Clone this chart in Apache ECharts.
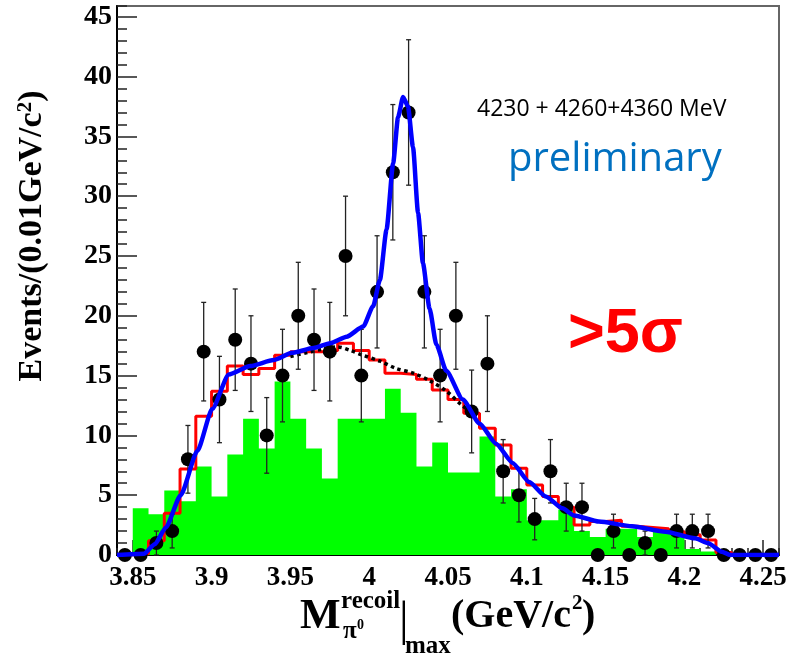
<!DOCTYPE html>
<html><head><meta charset="utf-8">
<script src="https://cdn.jsdelivr.net/npm/echarts@6/dist/echarts.min.js"></script>
<style>html,body{margin:0;padding:0;background:#fff}#c{width:794px;height:659px}</style>
</head><body><div id="c"></div>
<script>
// ---- data ----
const binEdges = [3.84,3.85,3.86,3.87,3.88,3.89,3.90,3.91,3.92,3.93,3.94,3.95,3.96,3.97,3.98,3.99,4.00,4.01,4.02,4.03,4.04,4.05,4.06,4.07,4.08,4.09,4.10,4.11,4.12,4.13,4.14,4.15,4.16,4.17,4.18,4.19,4.20,4.21,4.22,4.23,4.24,4.25,4.26];
const binCenters = [3.845,3.855,3.865,3.875,3.885,3.895,3.905,3.915,3.925,3.935,3.945,3.955,3.965,3.975,3.985,3.995,4.005,4.015,4.025,4.035,4.045,4.055,4.065,4.075,4.085,4.095,4.105,4.115,4.125,4.135,4.145,4.155,4.165,4.175,4.185,4.195,4.205,4.215,4.225,4.235,4.245,4.255];
const dataCounts = [0,0,1,2,8,17,13,18,16,10,15,20,18,17,25,15,22,32,37,22,15,20,12,16,7,5,3,7,4,4,0,2,0,1,0,2,2,2,0,0,0,0];
const dataErrors = [0,0,1,1.41,2.83,4.12,3.61,4.24,4,3.16,3.87,4.47,4.24,4.12,5,3.87,4.69,5.66,6.08,4.69,3.87,4.47,3.46,4,2.65,2.24,1.73,2.65,2,2,0,1.41,0,1,0,1.41,1.41,1.41,0,0,0,0];
const greenHist = [0,3.9,3.4,5.4,4.5,7.4,4.9,8.4,11.4,8.9,14.5,11.4,8.9,6.4,11.4,11.4,11.4,13.9,11.9,7.4,9.4,6.9,6.9,9.9,4.9,5.5,2.9,2.9,3.8,2.0,1.5,2.2,2.2,1.5,2.0,2.0,0.5,0.3,0,0,0,0];
const redHist = [0,0.1,1.2,3.5,7.2,11.6,13.7,15.8,15.1,15.6,16.7,17.0,17.0,17.1,17.7,17.1,16.3,15.2,15.1,14.7,13.8,13.0,11.85,10.6,9.2,7.25,5.85,4.9,4.0,2.5,2.8,2.9,2.4,2.3,2.2,1.95,1.7,1.25,0.2,0,0,0];
const fitX = [3.84,3.857,3.864,3.871,3.8804,3.891,3.9004,3.9109,3.9246,3.9394,3.951,3.9646,3.9752,3.9857,3.9962,4.0025,4.0068,4.011,4.0152,4.0183,4.0215,4.0246,4.0278,4.031,4.0341,4.0383,4.0426,4.0489,4.0594,4.07,4.0805,4.091,4.1015,4.112,4.1226,4.13,4.1457,4.1668,4.1879,4.2068,4.2152,4.2236,4.2289,4.26];
const fitY = [0,0.1,0.9,2.3,5.0,8.7,12.2,15.1,15.8,16.3,16.9,17.3,17.7,18.25,19.1,20.8,23.0,27.2,32.75,36.6,38.3,37.5,34.1,28.6,24.4,20.6,17.6,15.4,13.0,11.0,9.3,7.7,6.1,4.9,3.9,3.3,2.8,2.4,1.95,1.4,0.98,0.28,0,0];
const bkgX = [3.95,3.96,3.97,3.98,3.988,3.996,4.007,4.017,4.028,4.038,4.049,4.059,4.066];
const bkgY = [16.6,16.9,17.2,17.4,17.1,16.7,16.2,15.6,15.2,14.6,13.7,12.5,11.9];
const xTickLabels = [3.85,3.90,3.95,4.00,4.05,4.10,4.15,4.20,4.25];
const yTickLabels = [0,5,10,15,20,25,30,35,40,45];

// ---- build series data ----
function stepData(vals){
  const d = vals.map((v,i)=>[binEdges[i], v]);
  d.push([binEdges[binEdges.length-1], vals[vals.length-1]]);
  return d;
}
const pts = binCenters.map((x,i)=>[x, dataCounts[i], dataErrors[i]]);
const fitData = fitX.map((x,i)=>[x, fitY[i]]);
const bkgData = bkgX.map((x,i)=>[x, bkgY[i]]);

const SERIF = 'Liberation Serif';
const chart = echarts.init(document.getElementById('c'), null, {renderer:'canvas'});
const fmt = v => String(+(+v).toFixed(2));

chart.setOption({
  animation:false,
  backgroundColor:'#fff',
  grid:{left:117, right:15, top:6, bottom:104, show:true, borderColor:'#666', borderWidth:2, backgroundColor:'transparent'},
  xAxis:[{
    type:'value', min:3.84, max:4.26, position:'bottom',
    axisLine:{show:true, onZero:false, lineStyle:{color:'#000', width:2}},
    axisTick:{show:true, inside:true, length:15, customValues:xTickLabels, lineStyle:{color:'#222', width:1.5}},
    axisLabel:{show:true, customValues:xTickLabels, formatter:fmt, fontFamily:SERIF, fontWeight:'bold', fontSize:27, color:'#000', margin:10},
    splitLine:{show:false}
  },{
    type:'value', min:3.84, max:4.26, interval:0.01, position:'bottom',
    axisLine:{show:false}, axisLabel:{show:false}, splitLine:{show:false},
    axisTick:{show:true, inside:true, length:7, lineStyle:{color:'#222', width:1.5}}
  }],
  yAxis:[{
    type:'value', min:0, max:45.9, position:'left',
    axisLine:{show:true, onZero:false, lineStyle:{color:'#000', width:2}},
    axisTick:{show:true, inside:true, length:20, customValues:yTickLabels, lineStyle:{color:'#222', width:1.5}},
    axisLabel:{show:true, customValues:yTickLabels, formatter:fmt, fontFamily:SERIF, fontWeight:'bold', fontSize:28, color:'#000', margin:5},
    splitLine:{show:false}
  },{
    type:'value', min:0, max:45.9, interval:1, position:'left', offset:0,
    axisLine:{show:false}, axisLabel:{show:false}, splitLine:{show:false},
    axisTick:{show:true, inside:true, length:10, lineStyle:{color:'#222', width:1.5}}
  }],
  series:[
    {type:'line', name:'bkgMC', data:stepData(greenHist), step:'end', symbol:'none', lineStyle:{width:0}, areaStyle:{color:'#00ff00', opacity:1}, z:1},
    {type:'line', name:'sum', data:stepData(redHist), step:'end', symbol:'none', lineStyle:{color:'#ff0000', width:3}, z:2},
    {type:'line', name:'bkg', data:bkgData, smooth:0.3, symbol:'none', lineStyle:{color:'#000', width:3.5, type:[3.5,3.5]}, z:3},
    {type:'custom', name:'err', data:pts, encode:{x:0, y:1}, z:4, clip:false,
      renderItem:(params, api)=>{
        const x = api.value(0), y = api.value(1), e = api.value(2);
        if (!e) return null;
        const t = api.coord([x, y+e]), b = api.coord([x, y-e]);
        const c = 2.5, st = {stroke:'#222', lineWidth:1.3};
        return {type:'group', children:[
          {type:'line', shape:{x1:t[0], y1:t[1], x2:b[0], y2:b[1]}, style:st},
          {type:'line', shape:{x1:t[0]-c, y1:t[1], x2:t[0]+c, y2:t[1]}, style:st},
          {type:'line', shape:{x1:b[0]-c, y1:b[1], x2:b[0]+c, y2:b[1]}, style:st}
        ]};
      }},
    {type:'scatter', name:'data', data:pts.map(p=>[p[0],p[1]]), symbol:'circle', symbolSize:14, itemStyle:{color:'#000', opacity:1}, clip:false, z:5},
    {type:'line', name:'fit', data:fitData, smooth:0.2, smoothMonotone:'x', symbol:'none', lineStyle:{color:'#0000ff', width:4.5}, z:6}
  ],
  graphic:[
    {type:'text', x:32, y:236, rotation:Math.PI/2, z:10, style:{text:'Events/(0.01GeV/c{s|2})', fill:'#000', fontFamily:SERIF, fontWeight:'bold', fontSize:34, align:'center', verticalAlign:'middle',
      rich:{s:{fontFamily:SERIF, fontWeight:'bold', fontSize:21, verticalAlign:'top', fill:'#000'}}}},
    {type:'text', x:300, y:617, z:10, style:{text:'M', fill:'#000', fontFamily:SERIF, fontWeight:'bold', fontSize:43, align:'left', verticalAlign:'middle'}},
    {type:'text', x:341, y:602, z:10, style:{text:'recoil', fill:'#000', fontFamily:SERIF, fontWeight:'bold', fontSize:25, align:'left', verticalAlign:'middle'}},
    {type:'text', x:343, y:632, z:10, style:{text:'\u03c0', fill:'#000', fontFamily:SERIF, fontWeight:'bold', fontSize:25, align:'left', verticalAlign:'middle'}},
    {type:'text', x:357, y:625, z:10, style:{text:'0', fill:'#000', fontFamily:SERIF, fontWeight:'bold', fontSize:14, align:'left', verticalAlign:'middle'}},
    {type:'text', x:399, y:622, z:10, style:{text:'|', fill:'#000', fontFamily:SERIF, fontWeight:'normal', fontSize:48, align:'left', verticalAlign:'middle'}},
    {type:'text', x:405, y:647, z:10, style:{text:'max', fill:'#000', fontFamily:SERIF, fontWeight:'bold', fontSize:25, align:'left', verticalAlign:'middle'}},
    {type:'text', x:451, y:617, z:10, style:{text:'(GeV/c', fill:'#000', fontFamily:SERIF, fontWeight:'bold', fontSize:40, align:'left', verticalAlign:'middle'}},
    {type:'text', x:572, y:604, z:10, style:{text:'2', fill:'#000', fontFamily:SERIF, fontWeight:'bold', fontSize:21, align:'left', verticalAlign:'middle'}},
    {type:'text', x:582, y:617, z:10, style:{text:')', fill:'#000', fontFamily:SERIF, fontWeight:'bold', fontSize:40, align:'left', verticalAlign:'middle'}},
    {type:'text', x:477, y:109, z:10, style:{text:'4230 + 4260+4360 MeV', fill:'#000', fontFamily:'Open Sans', fontSize:23, align:'left', verticalAlign:'middle'}},
    {type:'text', x:508, y:160, z:10, style:{text:'preliminary', fill:'#0070c0', fontFamily:'Open Sans', fontSize:40, align:'left', verticalAlign:'middle'}},
    {type:'text', x:568, y:335, z:10, style:{text:'>5\u03c3', fill:'#ff0000', fontFamily:'Liberation Sans', fontWeight:'bold', fontSize:63, align:'left', verticalAlign:'middle'}}
  ]
});
</script></body></html>
